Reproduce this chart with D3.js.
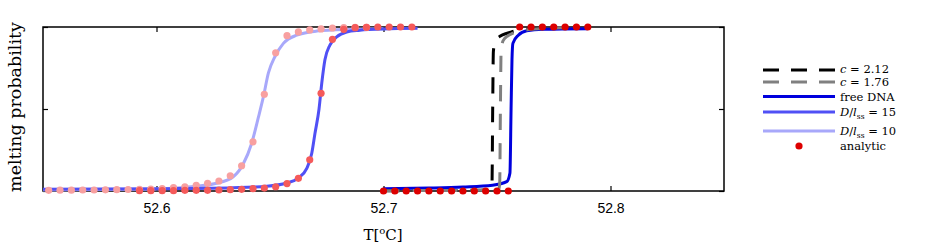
<!DOCTYPE html>
<html>
<head>
<meta charset="utf-8">
<script src="https://cdn.jsdelivr.net/npm/d3@7"></script>
<style>
  body { margin: 0; background: #fff; }
</style>
</head>
<body>
<div id="chart"></div>
<script>
const margin = {top: 27, right: 202, bottom: 60, left: 43},
      width = 926 - margin.left - margin.right,
      height = 251 - margin.top - margin.bottom;

// axis ticks
const ticksX = [52.6, 52.7, 52.8];
const ticksY = [0, 0.5, 1];

// simulated curves (temperature, melting probability)
const tLight = [52.55, 52.5896, 52.6118, 52.6265, 52.6338, 52.6382, 52.6419, 52.6449, 52.6471, 52.6493, 52.6522, 52.6559, 52.6618, 52.6706, 52.6852, 52.70];
const pLight = [0.006, 0.010, 0.022, 0.047, 0.087, 0.165, 0.29, 0.45, 0.575, 0.72, 0.82, 0.90, 0.95, 0.975, 0.986, 0.99];

const tMedium = [52.55, 52.6045, 52.6338, 52.6485, 52.6573, 52.6623, 52.6662, 52.6684, 52.6698, 52.6716, 52.6728, 52.6742, 52.6764, 52.6794, 52.6838, 52.6896, 52.70, 52.715];
const pMedium = [0.010, 0.014, 0.020, 0.029, 0.049, 0.077, 0.138, 0.23, 0.35, 0.5, 0.657, 0.80, 0.89, 0.94, 0.97, 0.98, 0.988, 0.992];

const tFree = [52.70, 52.72, 52.735, 52.748, 52.7543, 52.7557, 52.7562, 52.7566, 52.757, 52.7594, 52.7631, 52.7704, 52.79];
const pFree = [0.014, 0.018, 0.024, 0.035, 0.057, 0.11, 0.5, 0.80, 0.90, 0.95, 0.977, 0.986, 0.99];

const tC212 = [52.70, 52.74, 52.747, 52.7478, 52.7481, 52.7484, 52.7493, 52.7515, 52.7545, 52.758, 52.765, 52.775];
const pC212 = [0.002, 0.004, 0.01, 0.05, 0.5, 0.85, 0.917, 0.945, 0.962, 0.976, 0.988, 0.995];

const tC176 = [52.70, 52.745, 52.7508, 52.7512, 52.7515, 52.7518, 52.7527, 52.755, 52.7575, 52.762, 52.77, 52.78];
const pC176 = [0.002, 0.005, 0.015, 0.05, 0.5, 0.85, 0.917, 0.948, 0.965, 0.98, 0.99, 0.995];

// analytic points
const tDotsLight = [52.5525, 52.5575, 52.5625, 52.5675, 52.5725, 52.5775, 52.5825, 52.5875, 52.5925, 52.5975,
                    52.6025, 52.6075, 52.6125, 52.6175, 52.6225, 52.6275, 52.6325, 52.6375, 52.6425, 52.6475,
                    52.6525, 52.6575, 52.6625, 52.6675, 52.6725, 52.6775, 52.6825, 52.6875, 52.6925];
const pDotsLight = [0.004, 0.005, 0.005, 0.006, 0.006, 0.007, 0.008, 0.009, 0.010, 0.012,
                    0.014, 0.020, 0.026, 0.035, 0.047, 0.061, 0.093, 0.154, 0.30, 0.59,
                    0.843, 0.947, 0.970, 0.982, 0.988, 0.994, 0.996, 0.998, 0.998];

const tDotsMedium = [52.5925, 52.5975, 52.6025, 52.6075, 52.6125, 52.6175, 52.6225, 52.6275, 52.6325, 52.6375,
                     52.6425, 52.6475, 52.6525, 52.6575, 52.6625, 52.6675, 52.6725, 52.6775, 52.6825, 52.6875,
                     52.6925, 52.6975, 52.7025, 52.7075, 52.7125];
const pDotsMedium = [0.002, 0.002, 0.002, 0.002, 0.004, 0.004, 0.004, 0.006, 0.008, 0.010,
                     0.014, 0.018, 0.026, 0.045, 0.077, 0.19, 0.596, 0.925, 0.986, 0.996,
                     0.998, 1.0, 1.0, 1.0, 1.0];

const tDotsFree = [52.70, 52.705, 52.71, 52.715, 52.72, 52.725, 52.73, 52.735, 52.74, 52.745, 52.75, 52.755,
                   52.76, 52.765, 52.77, 52.775, 52.78, 52.785, 52.79];
const pDotsFree = [0, 0, 0, 0, 0, 0, 0, 0, 0, 0, 0, 0,
                   1, 1, 1, 1, 1, 1, 1];

const svg = d3.select("#chart")
    .append("svg")
    .attr("width", width + margin.left + margin.right)
    .attr("height", height + margin.top + margin.bottom)
    .append("g")
    .attr("transform", `translate(${margin.left},${margin.top})`);

const x = d3.scaleLinear().domain([52.55, 52.85]).range([0, width]);
const y = d3.scaleLinear().domain([0, 1]).range([height, 0]);

// frame
svg.append("rect")
    .attr("width", width)
    .attr("height", height)
    .attr("fill", "none")
    .attr("stroke", "black")
    .attr("stroke-width", 1.5);

const styleAxis = g => {
    g.select(".domain").remove();
    g.selectAll(".tick line").attr("stroke", "black").attr("stroke-width", 1.2);
};

svg.append("g")
    .attr("transform", `translate(0,${height})`)
    .call(d3.axisBottom(x).tickValues(ticksX).tickSize(-5).tickPadding(12).tickFormat(d3.format(".1f")))
    .call(styleAxis)
    .selectAll("text")
    .attr("fill", "black")
    .style("font-family", "'Liberation Sans', Arial, sans-serif")
    .style("font-size", "14px");

svg.append("g")
    .call(d3.axisTop(x).tickValues(ticksX).tickSize(-5).tickFormat(""))
    .call(styleAxis);

svg.append("g")
    .call(d3.axisLeft(y).tickValues(ticksY).tickSize(-5).tickFormat(""))
    .call(styleAxis);

svg.append("g")
    .attr("transform", `translate(${width},0)`)
    .call(d3.axisRight(y).tickValues(ticksY).tickSize(-5).tickFormat(""))
    .call(styleAxis);

// axis labels
svg.append("text")
    .attr("transform", `translate(${21 - margin.left},${107 - margin.top}) rotate(-90)`)
    .attr("text-anchor", "middle")
    .style("font-family", "'DejaVu Serif', serif")
    .style("font-size", "17.5px")
    .text("melting probability");

const xl = svg.append("text")
    .attr("x", 383 - margin.left)
    .attr("y", 240 - margin.top)
    .attr("text-anchor", "middle")
    .style("font-family", "'DejaVu Serif', serif")
    .style("font-size", "15px");
xl.append("tspan").text("T[");
xl.append("tspan").attr("dy", -6).style("font-size", "10px").text("o");
xl.append("tspan").attr("dy", 6).text("C]");

// curves
const line = d3.line()
    .x(d => x(d[0]))
    .y(d => y(d[1]))
    .curve(d3.curveMonotoneX);

const curves = [
    {t: tLight, p: pLight, color: "#a8a8fa", dash: null},
    {t: tMedium, p: pMedium, color: "#5050f5", dash: null},
    {t: tFree, p: pFree, color: "#0000dd", dash: null},
    {t: tC212, p: pC212, color: "#000000", dash: "16,13"},
    {t: tC176, p: pC176, color: "#808080", dash: "16,13"}
];

svg.selectAll("path.curve")
    .data(curves)
    .enter()
    .append("path")
    .attr("class", "curve")
    .attr("d", d => line(d3.zip(d.t, d.p)))
    .attr("fill", "none")
    .attr("stroke", d => d.color)
    .attr("stroke-width", 3)
    .attr("stroke-dasharray", d => d.dash);

const dotSets = [
    {t: tDotsLight, p: pDotsLight, color: "#f8a0a0"},
    {t: tDotsMedium, p: pDotsMedium, color: "#f55a5a"},
    {t: tDotsFree, p: pDotsFree, color: "#dd0000"}
];

dotSets.forEach(s => {
    svg.append("g")
        .selectAll("circle")
        .data(d3.zip(s.t, s.p))
        .enter()
        .append("circle")
        .attr("cx", d => x(d[0]))
        .attr("cy", d => y(d[1]))
        .attr("r", 3.6)
        .attr("fill", s.color);
});

// legend
const legend = d3.select("svg").append("g")
    .style("font-family", "'DejaVu Serif', serif")
    .style("font-size", "11.5px");

const legendItems = [
    {y: 70, ty: 72.5, color: "#000000", dash: "16,12", kind: "line", label: [["c", "i"], [" = 2.12", ""]]},
    {y: 82, ty: 86.2, color: "#808080", dash: "16,12", kind: "line", label: [["c", "i"], [" = 1.76", ""]]},
    {y: 96.5, ty: 100.5, color: "#0000dd", dash: null, kind: "line", label: [["free DNA", ""]]},
    {y: 112, ty: 116, color: "#5050f5", dash: null, kind: "line", label: [["D", "i"], ["/", ""], ["l", "i"], ["ss", "sub"], [" = 15", ""]]},
    {y: 131, ty: 135, color: "#a8a8fa", dash: null, kind: "line", label: [["D", "i"], ["/", ""], ["l", "i"], ["ss", "sub"], [" = 10", ""]]},
    {y: 146, ty: 150, color: "#dd0000", dash: null, kind: "dot", label: [["analytic", ""]]}
];

legendItems.forEach(it => {
    if (it.kind === "line") {
        legend.append("line")
            .attr("x1", 763).attr("x2", 835)
            .attr("y1", it.y).attr("y2", it.y)
            .attr("stroke", it.color)
            .attr("stroke-width", 3)
            .attr("stroke-dasharray", it.dash);
    } else {
        legend.append("circle")
            .attr("cx", 799).attr("cy", it.y)
            .attr("r", 3.6)
            .attr("fill", it.color);
    }
    const txt = legend.append("text")
        .attr("x", 840)
        .attr("y", it.ty);
    let shifted = false;
    it.label.forEach(([s, st]) => {
        const ts = txt.append("tspan").text(s).attr("xml:space", "preserve");
        if (st === "i") ts.style("font-style", "italic");
        if (st === "sub") { ts.attr("dy", 2.5).style("font-size", "7.5px"); shifted = true; }
        else if (shifted) { ts.attr("dy", -2.5); shifted = false; }
    });
});
</script>
</body>
</html>
